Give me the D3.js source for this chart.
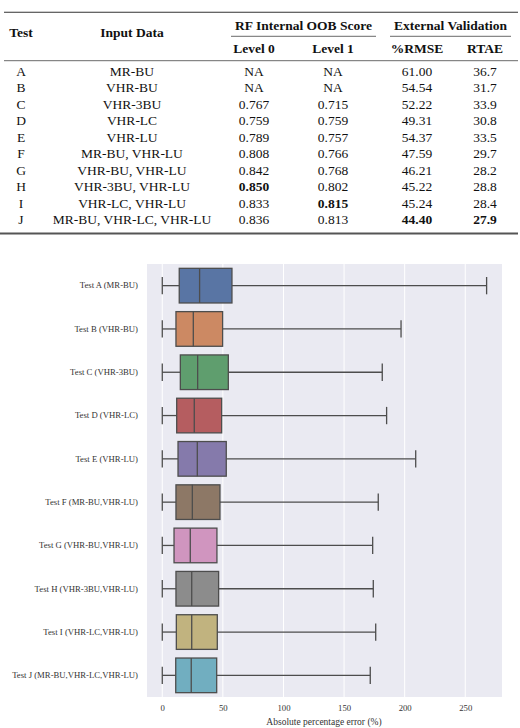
<!DOCTYPE html>
<html>
<head>
<meta charset="utf-8">
<script src="https://cdn.jsdelivr.net/npm/d3@7/dist/d3.min.js"></script>
<style>
  html, body { margin: 0; padding: 0; background: #fff; }
  svg { display: block; }
</style>
</head>
<body>
<svg id="chart" width="520" height="728"></svg>
<script>
// ---------- Table data ----------
const tests = ["A","B","C","D","E","F","G","H","I","J"];
const inputData = ["MR-BU","VHR-BU","VHR-3BU","VHR-LC","VHR-LU","MR-BU, VHR-LU","VHR-BU, VHR-LU","VHR-3BU, VHR-LU","VHR-LC, VHR-LU","MR-BU, VHR-LC, VHR-LU"];
const level0 = ["NA","NA","0.767","0.759","0.789","0.808","0.842","0.850","0.833","0.836"];
const level1 = ["NA","NA","0.715","0.759","0.757","0.766","0.768","0.802","0.815","0.813"];
const rmse = ["61.00","54.54","52.22","49.31","54.37","47.59","46.21","45.22","45.24","44.40"];
const rtae = ["36.7","31.7","33.9","30.8","33.5","29.7","28.2","28.8","28.4","27.9"];
// bold cells: [column key, row index]
const boldCells = [["level0",7],["level1",8],["rmse",9],["rtae",9]];

// ---------- Boxplot data (absolute percentage error, %) ----------
const boxLabels = ["Test A (MR-BU)","Test B (VHR-BU)","Test C (VHR-3BU)","Test D (VHR-LC)","Test E (VHR-LU)","Test F (MR-BU,VHR-LU)","Test G (VHR-BU,VHR-LU)","Test H (VHR-3BU,VHR-LU)","Test I (VHR-LC,VHR-LU)","Test J (MR-BU,VHR-LC,VHR-LU)"];
const whiskerLow = [0,0,0,0,0,0,0,0,0,0];
const q1 = [14.0,11.3,14.9,11.9,13.0,11.3,9.7,11.3,11.6,11.1];
const median = [30.8,25.6,29.2,26.4,28.9,24.8,23.1,24.3,24.3,23.9];
const q3 = [57.5,49.8,54.5,49.0,52.8,47.6,45.1,46.5,45.4,44.9];
const whiskerHigh = [267.6,197.0,181.5,185.1,209.1,178.2,173.6,174.1,176.1,171.6];
const xTicks = [0,50,100,150,200,250];
const xLabel = "Absolute percentage error (%)";
const palette = ["#4c72b0","#dd8452","#55a868","#c44e52","#8172b3","#937860","#da8bc3","#8c8c8c","#ccb974","#64b5cd"];

const svg = d3.select("#chart");
const serif = "'Liberation Serif','Times New Roman',serif";

// ================= TABLE =================
const tbl = svg.append("g").attr("font-family", serif).attr("fill", "#111");
const colX = {test: 21, input: 132, level0: 254, level1: 333, rmse: 417, rtae: 485};
const rowY = d3.scalePoint().domain(d3.range(tests.length)).range([71, 219.5]);

// rules
tbl.append("line").attr("x1", 4).attr("x2", 518).attr("y1", 12.3).attr("y2", 12.3)
  .attr("stroke", "#333").attr("stroke-width", 1.1);
tbl.append("line").attr("x1", 4).attr("x2", 518).attr("y1", 60.7).attr("y2", 60.7)
  .attr("stroke", "#444").attr("stroke-width", 0.8);
tbl.append("line").attr("x1", 0).attr("x2", 518).attr("y1", 233.5).attr("y2", 233.5)
  .attr("stroke", "#555").attr("stroke-width", 2);
tbl.append("line").attr("x1", 231).attr("x2", 376).attr("y1", 36.3).attr("y2", 36.3)
  .attr("stroke", "#444").attr("stroke-width", 0.8);
tbl.append("line").attr("x1", 390).attr("x2", 511).attr("y1", 36.3).attr("y2", 36.3)
  .attr("stroke", "#444").attr("stroke-width", 0.8);

const hdr = [
  {t: "Test", x: colX.test, y: 32.7},
  {t: "Input Data", x: colX.input, y: 32.7},
  {t: "RF Internal OOB Score", x: 303.5, y: 25},
  {t: "External Validation", x: 450.5, y: 25},
  {t: "Level 0", x: colX.level0, y: 48.3},
  {t: "Level 1", x: colX.level1, y: 48.3},
  {t: "%RMSE", x: colX.rmse, y: 48.3},
  {t: "RTAE", x: colX.rtae, y: 48.3}
];
tbl.selectAll("text.hdr").data(hdr).join("text").attr("class", "hdr")
  .attr("x", d => d.x).attr("y", d => d.y).attr("dy", "0.35em")
  .attr("text-anchor", "middle").attr("font-size", 13.5).attr("font-weight", "bold")
  .text(d => d.t);

const cols = {test: tests, input: inputData, level0: level0, level1: level1, rmse: rmse, rtae: rtae};
Object.keys(cols).forEach(key => {
  tbl.selectAll("text.c-" + key).data(cols[key]).join("text").attr("class", "c-" + key)
    .attr("x", colX[key]).attr("y", (d, i) => rowY(i)).attr("dy", "0.35em")
    .attr("text-anchor", "middle").attr("font-size", 13.5)
    .attr("font-weight", (d, i) => boldCells.some(b => b[0] === key && b[1] === i) ? "bold" : "normal")
    .text(d => d);
});

// ================= BOXPLOT =================
const plot = {left: 147, right: 502, top: 264, bottom: 697};
const x = d3.scaleLinear().domain([-12.6, 280.3]).range([plot.left, plot.right]);
const y = d3.scaleBand().domain(boxLabels).range([plot.top, plot.bottom]).padding(0);

const g = svg.append("g");
g.append("rect").attr("x", plot.left).attr("y", plot.top)
  .attr("width", plot.right - plot.left).attr("height", plot.bottom - plot.top)
  .attr("fill", "#eaeaf2");

// vertical grid only
g.selectAll("line.vgrid").data(xTicks).join("line").attr("class", "vgrid")
  .attr("x1", d => x(d)).attr("x2", d => x(d)).attr("y1", plot.top).attr("y2", plot.bottom)
  .attr("stroke", "#fff").attr("stroke-width", 1);

const lineCol = "#4d4d4d";
const lw = 1.3;
const boxH = y.bandwidth() * 0.8;
const capH = boxH * 0.5;

const items = boxLabels.map((lab, i) => ({
  lab, i, lo: whiskerLow[i], q1: q1[i], med: median[i], q3: q3[i], hi: whiskerHigh[i]
}));

const bx = g.selectAll("g.box").data(items).join("g").attr("class", "box")
  .attr("transform", d => `translate(0,${y(d.lab) + y.bandwidth() / 2})`);

// whiskers
bx.append("line").attr("x1", d => x(d.lo)).attr("x2", d => x(d.q1)).attr("y1", 0).attr("y2", 0)
  .attr("stroke", lineCol).attr("stroke-width", lw);
bx.append("line").attr("x1", d => x(d.q3)).attr("x2", d => x(d.hi)).attr("y1", 0).attr("y2", 0)
  .attr("stroke", lineCol).attr("stroke-width", lw);
// caps
bx.append("line").attr("x1", d => x(d.lo)).attr("x2", d => x(d.lo)).attr("y1", -capH / 2).attr("y2", capH / 2)
  .attr("stroke", lineCol).attr("stroke-width", lw);
bx.append("line").attr("x1", d => x(d.hi)).attr("x2", d => x(d.hi)).attr("y1", -capH / 2).attr("y2", capH / 2)
  .attr("stroke", lineCol).attr("stroke-width", lw);
// box
bx.append("rect").attr("x", d => x(d.q1)).attr("y", -boxH / 2)
  .attr("width", d => x(d.q3) - x(d.q1)).attr("height", boxH)
  .attr("fill", d => { const c = d3.hsl(palette[d.i]); c.s *= 0.75; return c.formatHex(); })
  .attr("stroke", lineCol).attr("stroke-width", lw);
// median
bx.append("line").attr("x1", d => x(d.med)).attr("x2", d => x(d.med)).attr("y1", -boxH / 2).attr("y2", boxH / 2)
  .attr("stroke", lineCol).attr("stroke-width", lw);

// axes
const yAxis = d3.axisLeft(y).tickSize(0).tickPadding(9);
const yg = g.append("g").attr("transform", `translate(${plot.left},0)`).call(yAxis);
yg.select(".domain").remove();
yg.selectAll("text").attr("font-family", serif).attr("font-size", 8.7).attr("fill", "#333");

const xAxis = d3.axisBottom(x).tickValues(xTicks).tickSize(0).tickPadding(8).tickFormat(d3.format("d"));
const xg = g.append("g").attr("transform", `translate(0,${plot.bottom})`).call(xAxis);
xg.select(".domain").remove();
xg.selectAll("text").attr("font-family", serif).attr("font-size", 8.7).attr("fill", "#333");

g.append("text").attr("x", (plot.left + plot.right) / 2 - 0.5).attr("y", 722).attr("dy", "0.35em")
  .attr("text-anchor", "middle").attr("font-family", serif).attr("font-size", 9.5).attr("fill", "#333")
  .text(xLabel);
</script>
</body>
</html>
